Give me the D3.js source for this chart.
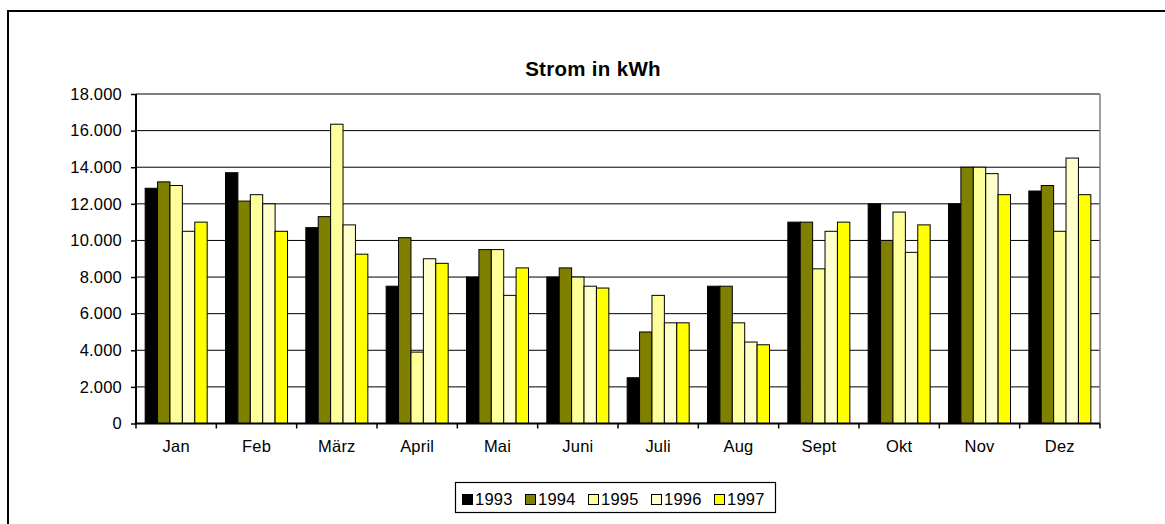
<!DOCTYPE html>
<html>
<head>
<meta charset="utf-8">
<script src="https://cdn.jsdelivr.net/npm/d3@7"></script>
<style>
  html, body { margin: 0; padding: 0; background: #fff; }
  svg { display: block; font-family: "Liberation Sans", Arial, sans-serif; }
</style>
</head>
<body>
<div id="chart"></div>
<script>
// Data
const months = ['Jan', 'Feb', 'März', 'April', 'Mai', 'Juni', 'Juli', 'Aug', 'Sept', 'Okt', 'Nov', 'Dez'];
const years = ['1993', '1994', '1995', '1996', '1997'];
const v1993 = [12850, 13700, 10700, 7500, 8000, 8000, 2500, 7500, 11000, 12000, 12000, 12700];
const v1994 = [13200, 12150, 11300, 10150, 9500, 8500, 5000, 7500, 11000, 10000, 14000, 13000];
const v1995 = [13000, 12500, 16350, 3900, 9500, 8000, 7000, 5500, 8450, 11550, 14000, 10500];
const v1996 = [10500, 12000, 10850, 9000, 7000, 7500, 5500, 4450, 10500, 9350, 13650, 14500];
const v1997 = [11000, 10500, 9250, 8750, 8500, 7400, 5500, 4300, 11000, 10850, 12500, 12500];
const yTicks = [0, 2000, 4000, 6000, 8000, 10000, 12000, 14000, 16000, 18000];
const colors = ['#000000', '#808000', '#ffff99', '#ffffcc', '#ffff00'];

const series = [v1993, v1994, v1995, v1996, v1997];

const width = 1165;
const height = 524;
const plot = { left: 136, right: 1100, top: 94, bottom: 423.5 };
const fontSize = '16.5px';

const de = d3.formatLocale({ decimal: ',', thousands: '.', grouping: [3], currency: ['', ' €'] });
const fmt = de.format(',');

const svg = d3.select('#chart').append('svg')
  .attr('width', width)
  .attr('height', height);

// outer chart frame (runs off the right and bottom edge)
svg.append('rect')
  .attr('x', 8).attr('y', 11)
  .attr('width', 1180).attr('height', 530)
  .attr('fill', 'none')
  .attr('stroke', '#000')
  .attr('stroke-width', 2);

// title
svg.append('text')
  .attr('x', 593).attr('y', 76)
  .attr('text-anchor', 'middle')
  .attr('font-size', '20.5px')
  .attr('font-weight', 'bold')
  .attr('letter-spacing', '0.3px')
  .text('Strom in kWh');

// scales
const x0 = d3.scaleBand()
  .domain(months)
  .range([plot.left, plot.right])
  .paddingInner(0.228)
  .paddingOuter(0.114);

const x1 = d3.scaleBand()
  .domain(years)
  .range([0, x0.bandwidth()])
  .padding(0);

const y = d3.scaleLinear()
  .domain([0, 18000])
  .range([plot.bottom, plot.top]);

// gridlines
svg.append('g')
  .selectAll('line')
  .data(yTicks.filter(d => d > 0))
  .join('line')
  .attr('x1', plot.left).attr('x2', plot.right)
  .attr('y1', d => y(d)).attr('y2', d => y(d))
  .attr('stroke', '#000')
  .attr('stroke-width', 1);

// right border of plot area
svg.append('line')
  .attr('x1', plot.right).attr('x2', plot.right)
  .attr('y1', plot.top).attr('y2', plot.bottom)
  .attr('stroke', '#808080')
  .attr('stroke-width', 1.5);

// bars
const groups = svg.append('g')
  .selectAll('g')
  .data(months)
  .join('g')
  .attr('transform', d => `translate(${x0(d)},0)`);

groups.selectAll('rect')
  .data((m, i) => years.map((yr, j) => ({ year: yr, value: series[j][i], color: colors[j] })))
  .join('rect')
  .attr('x', d => x1(d.year))
  .attr('y', d => y(d.value))
  .attr('width', x1.bandwidth())
  .attr('height', d => y(0) - y(d.value))
  .attr('fill', d => d.color)
  .attr('stroke', '#000')
  .attr('stroke-width', 1);

// y axis
const yAxis = svg.append('g')
  .attr('transform', `translate(${plot.left},0)`)
  .call(d3.axisLeft(y).tickValues(yTicks).tickFormat(fmt).tickSize(5).tickPadding(9));
yAxis.select('.domain').attr('stroke-width', 2).attr('d', `M0,${plot.top}V${plot.bottom}`);
yAxis.selectAll('.tick line').attr('stroke-width', 1.5);
yAxis.selectAll('text')
  .attr('font-size', fontSize)
  .attr('letter-spacing', '0.2px')
  .attr('fill', '#000')
  .attr('font-family', '"Liberation Sans", Arial, sans-serif');

// x axis: labels centred, ticks at category boundaries
const xAxis = svg.append('g')
  .attr('transform', `translate(0,${plot.bottom})`)
  .call(d3.axisBottom(x0).tickSize(0).tickPadding(17));
xAxis.select('.domain').attr('stroke-width', 2).attr('d', `M${plot.left - 1},0H${plot.right}`);
xAxis.selectAll('text')
  .attr('font-size', fontSize)
  .attr('letter-spacing', '0.2px')
  .attr('fill', '#000')
  .attr('font-family', '"Liberation Sans", Arial, sans-serif');

const step = x0.step();
xAxis.append('g')
  .selectAll('line')
  .data(d3.range(months.length + 1))
  .join('line')
  .attr('x1', i => plot.left + i * step)
  .attr('x2', i => plot.left + i * step)
  .attr('y1', 0).attr('y2', 5)
  .attr('stroke', '#000')
  .attr('stroke-width', 1.5);

// legend
const legend = svg.append('g');
legend.append('rect')
  .attr('x', 455.5).attr('y', 482.5)
  .attr('width', 320).attr('height', 30)
  .attr('fill', '#fff')
  .attr('stroke', '#000')
  .attr('stroke-width', 1.2);

const items = legend.selectAll('g.item')
  .data(years)
  .join('g')
  .attr('class', 'item')
  .attr('transform', (d, i) => `translate(${462 + i * 63},0)`);

items.append('rect')
  .attr('x', 0.5).attr('y', 494.5)
  .attr('width', 10).attr('height', 10)
  .attr('fill', (d, i) => colors[i])
  .attr('stroke', '#000')
  .attr('stroke-width', 1);

items.append('text')
  .attr('x', 13).attr('y', 505)
  .attr('font-size', fontSize)
  .attr('letter-spacing', '0.2px')
  .text(d => d);
</script>
</body>
</html>
